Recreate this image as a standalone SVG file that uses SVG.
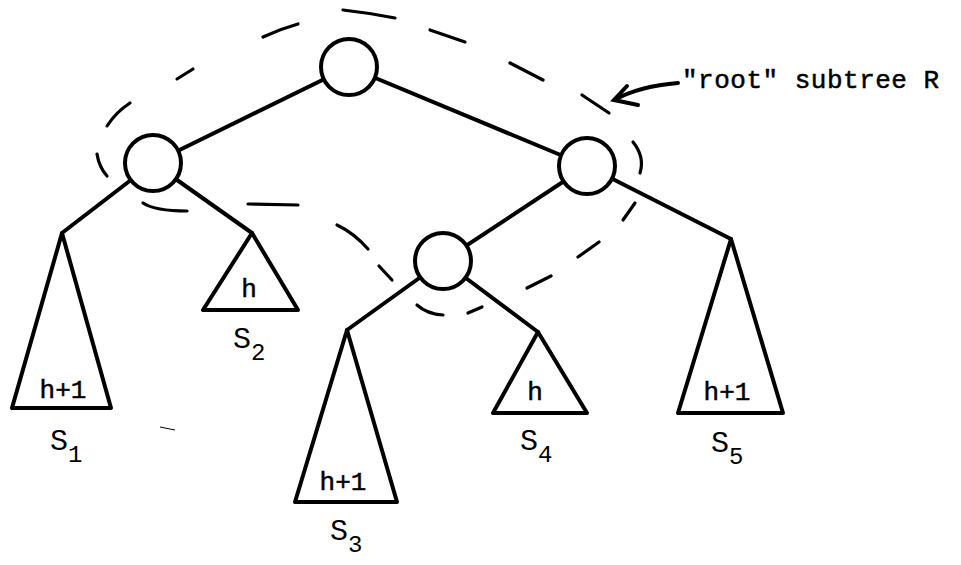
<svg xmlns="http://www.w3.org/2000/svg" width="961" height="565" viewBox="0 0 961 565">
  <style>
    .edge { stroke: #000; stroke-width: 4; stroke-linecap: round; fill: none; }
    .node { stroke: #000; stroke-width: 4; fill: #fff; }
    .tri { stroke: #000; stroke-width: 4; stroke-linejoin: round; fill: #fff; }
    .dash { stroke: #000; stroke-width: 3.2; stroke-linecap: round; fill: none; }
    .type { font-family: "Liberation Mono", "Courier New", monospace; font-size: 26px; fill: #000; stroke: #000; stroke-width: 0.5; }
    .lbl { font-family: "Liberation Mono", "Courier New", monospace; font-size: 30px; fill: #000; }
    .sub { font-size: 24px; }
  </style>

  <!-- tree edges, drawn under the circles -->
  <g id="connectors">
    <line class="edge" x1="349" y1="67" x2="153" y2="163"/>
    <line class="edge" x1="349" y1="67" x2="587" y2="166"/>
    <line class="edge" x1="153" y1="163" x2="62" y2="233"/>
    <line class="edge" x1="153" y1="163" x2="252" y2="233"/>
    <line class="edge" x1="587" y1="166" x2="443" y2="261"/>
    <line class="edge" x1="587" y1="166" x2="731" y2="239"/>
    <line class="edge" x1="443" y1="261" x2="347" y2="330"/>
    <line class="edge" x1="443" y1="261" x2="538" y2="332"/>
  </g>

  <!-- dashed outline of the "root" subtree R -->
  <g id="root-subtree-outline">
    <path class="dash" d="M343 10 Q370 13 395 18"/>
    <path class="dash" d="M263 37 Q280 29 298 24"/>
    <path class="dash" d="M177 79 L193 69"/>
    <path class="dash" d="M107 126 Q116 112 130 103"/>
    <path class="dash" d="M97 154 Q99 167 107 176"/>
    <path class="dash" d="M143 203 Q155 211 187 211"/>
    <path class="dash" d="M248 204 L298 205"/>
    <path class="dash" d="M337 225 Q354 233 368 249"/>
    <path class="dash" d="M379 266 L392 280"/>
    <path class="dash" d="M417 305 Q427 314 443 315"/>
    <path class="dash" d="M468 313 L482 307"/>
    <path class="dash" d="M527 288 L551 276"/>
    <path class="dash" d="M578 257 L599 242"/>
    <path class="dash" d="M623 220 L635 203"/>
    <path class="dash" d="M633 142 Q645 157 640 173"/>
    <path class="dash" d="M582 95 L609 113"/>
    <path class="dash" d="M510 63 L543 80"/>
    <path class="dash" d="M430 30 L465 42"/>
    <path d="M160 427 L175 430" stroke="#000" stroke-width="1" fill="none"/>
  </g>

  <!-- label with pointer -->
  <g id="label-R">
    <path class="edge" d="M678 83 Q640 86 614 100" stroke-width="3"/>
    <path class="edge" d="M627 86 L614 100 L638 105" stroke-width="3.5"/>
    <text class="type" x="682" y="88" letter-spacing="0.5">"root" subtree  R</text>
  </g>

  <!-- internal nodes -->
  <g id="node-root"><circle class="node" cx="349" cy="67" r="28"/></g>
  <g id="node-left"><circle class="node" cx="153" cy="163" r="28"/></g>
  <g id="node-right"><circle class="node" cx="587" cy="166" r="28"/></g>
  <g id="node-mid"><circle class="node" cx="443" cy="261" r="28"/></g>

  <!-- subtrees -->
  <g id="subtree-S1">
    <polygon class="tri" points="62,233 12,408 111,408"/>
    <text class="type" x="63" y="398" text-anchor="middle">h+1</text>
    <text class="lbl" x="50" y="450">S<tspan class="sub" dy="12">1</tspan></text>
  </g>
  <g id="subtree-S2">
    <polygon class="tri" points="252,233 203,310 298,310"/>
    <text class="type" x="249" y="297" text-anchor="middle">h</text>
    <text class="lbl" x="233" y="348">S<tspan class="sub" dy="12">2</tspan></text>
  </g>
  <g id="subtree-S3">
    <polygon class="tri" points="347,330 295,502 397,502"/>
    <text class="type" x="343" y="490" text-anchor="middle">h+1</text>
    <text class="lbl" x="330" y="540">S<tspan class="sub" dy="12">3</tspan></text>
  </g>
  <g id="subtree-S4">
    <polygon class="tri" points="538,332 493,413 587,413"/>
    <text class="type" x="535" y="400" text-anchor="middle">h</text>
    <text class="lbl" x="520" y="450">S<tspan class="sub" dy="12">4</tspan></text>
  </g>
  <g id="subtree-S5">
    <polygon class="tri" points="731,239 678,413 783,413"/>
    <text class="type" x="727" y="400" text-anchor="middle">h+1</text>
    <text class="lbl" x="711" y="452">S<tspan class="sub" dy="12">5</tspan></text>
  </g>
</svg>
